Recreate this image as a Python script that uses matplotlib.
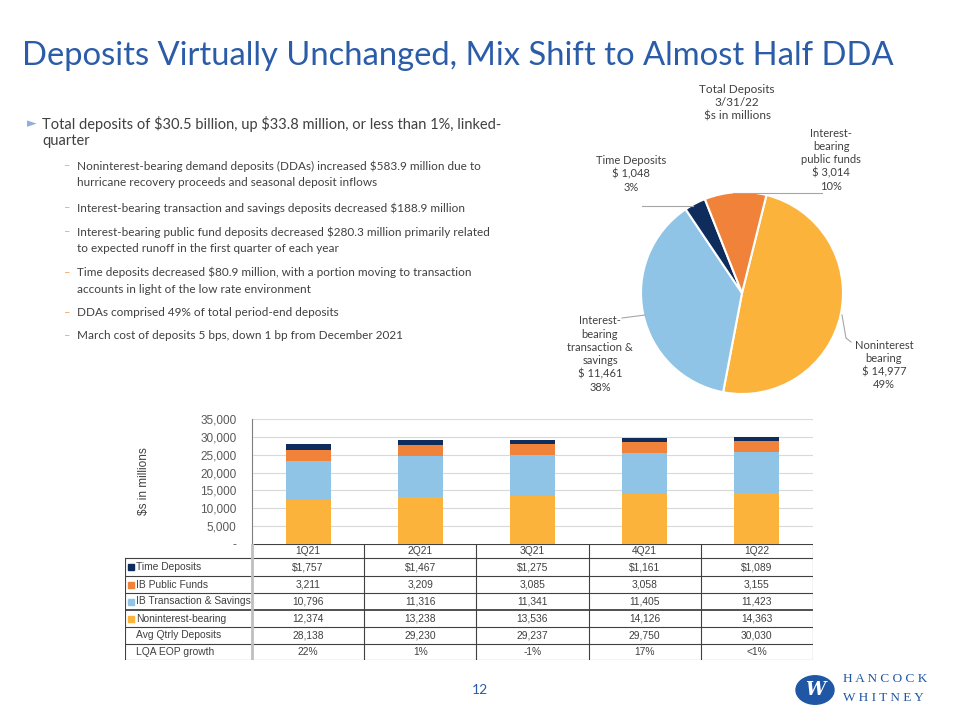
import matplotlib.pyplot as plt
from matplotlib.patches import Circle

plt.rcParams['font.family'] = ['Lato', 'DejaVu Sans']

# ---- data ----
quarters = ["1Q21", "2Q21", "3Q21", "4Q21", "1Q22"]
time_dep = [1757, 1467, 1275, 1161, 1089]
ib_public = [3211, 3209, 3085, 3058, 3155]
ib_trans = [10796, 11316, 11341, 11405, 11423]
nonint = [12374, 13238, 13536, 14126, 14363]
avg_qtrly = [28138, 29230, 29237, 29750, 30030]
lqa_growth = ["22%", "1%", "-1%", "17%", "<1%"]

pie_labels = ["Noninterest\nbearing\n$ 14,977\n49%",
              "Interest-\nbearing\ntransaction &\nsavings\n$ 11,461\n38%",
              "Time Deposits\n$ 1,048\n3%",
              "Interest-\nbearing\npublic funds\n$ 3,014\n10%"]
pie_values = [14977, 11461, 1048, 3014]

C_NON = "#FBB33C"
C_TRANS = "#8FC4E6"
C_TIME = "#0E2D5C"
C_PUB = "#F1823A"
BLUE = "#2B5CA8"
GRAY = "#404040"

W, H = 960, 720
fig = plt.figure(figsize=(9.6, 7.2), dpi=100)


def fx(x):
    return x / W


def fy(y):
    return 1 - y / H


def txt(x, y, s, **kw):
    return fig.text(fx(x), fy(y), s, parse_math=False, **kw)


# ---- title and bullets ----
txt(22, 65, "Deposits Virtually Unchanged, Mix Shift to Almost Half DDA",
    fontsize=23.6, color=BLUE, va="baseline")

txt(27, 124, "\u25BA", fontsize=9, color="#8FB0D8", va="center", family="DejaVu Sans")
txt(42, 116, "Total deposits of $30.5 billion, up $33.8 million, or less than 1%, linked-",
    fontsize=10.5, color=GRAY, va="top")
txt(42, 134, "quarter", fontsize=10.5, color=GRAY, va="top")

subs = [
    (160, "Noninterest-bearing demand deposits (DDAs) increased $583.9 million due to"),
    (177, None, "hurricane recovery proceeds and seasonal deposit inflows"),
    (202, "Interest-bearing transaction and savings deposits decreased $188.9 million"),
    (226, "Interest-bearing public fund deposits decreased $280.3 million primarily related"),
    (243, None, "to expected runoff in the first quarter of each year"),
    (267, "Time deposits decreased $80.9 million, with a portion moving to transaction"),
    (284, None, "accounts in light of the low rate environment"),
    (307, "DDAs comprised 49% of total period-end deposits"),
    (330, "March cost of deposits 5 bps, down 1 bp from December 2021"),
]
for s in subs:
    y = s[0]
    if len(s) == 2:
        txt(64, y, "\u2013", fontsize=8, color="#F2A65A", va="top")
        txt(77, y, s[1], fontsize=8.5, color=GRAY, va="top")
    else:
        txt(77, y, s[2], fontsize=8.5, color=GRAY, va="top")

# ---- pie ----
cx, cy, r = 742, 293, 101
pax = fig.add_axes([fx(cx - r), fy(cy + r), 2 * r / W, 2 * r / H])
wedges, _ = pax.pie(pie_values, colors=[C_NON, C_TRANS, C_TIME, C_PUB],
                    startangle=76, counterclock=False, radius=1,
                    wedgeprops=dict(edgecolor="white", linewidth=1.5))
pax.set_aspect("auto")
pax.set_xlim(-1, 1)
pax.set_ylim(-1, 1)

txt(737, 103, "Total Deposits\n3/31/22\n$s in millions", ha="center",
    va="center", fontsize=8.5, color=GRAY, linespacing=1.25)

lab_pos = [(884, 365), (600, 354), (631, 174), (831, 160)]
for lab, (lx, ly) in zip(pie_labels, lab_pos):
    txt(lx, ly, lab, ha="center", va="center", fontsize=8,
        color=GRAY, linespacing=1.25)

# leader lines (figure pixel space)
line_kw = dict(color="#A6A6A6", linewidth=0.8, transform=fig.transFigure)
for xs, ys in [([642, 693], [206, 206]), ([733, 822], [193, 193]),
               ([622, 645], [318, 315]), ([842, 846, 851], [315, 338, 342])]:
    fig.add_artist(plt.Line2D([fx(v) for v in xs], [fy(v) for v in ys], **line_kw))

# ---- stacked bars ----
bx0, bx1, by0, by1 = 252, 813, 419, 544
bax = fig.add_axes([fx(bx0), fy(by1), (bx1 - bx0) / W, (by1 - by0) / H])
xs = range(len(quarters))
bw = 0.4
bottom = [0] * len(quarters)
for vals, col in [(nonint, C_NON), (ib_trans, C_TRANS), (ib_public, C_PUB), (time_dep, C_TIME)]:
    bax.bar(xs, vals, bw, bottom=bottom, color=col, zorder=3)
    bottom = [b + v for b, v in zip(bottom, vals)]
bax.set_xlim(-0.5, 4.5)
bax.set_ylim(0, 35000)
bax.set_yticks(range(0, 35001, 5000))
bax.set_yticklabels(["-"] + [f"{v:,}" for v in range(5000, 35001, 5000)],
                    fontsize=8.5, color="#595959", family=["Liberation Sans", "DejaVu Sans"])
bax.set_xticks([])
bax.tick_params(axis="y", length=0, pad=11)
bax.grid(axis="y", color="#D9D9D9", linewidth=0.8, zorder=0)
for sp in ["top", "right", "bottom"]:
    bax.spines[sp].set_visible(False)
bax.spines["left"].set_color("#7F7F7F")
bax.spines["left"].set_linewidth(0.8)
bax.set_ylabel("$s in millions", fontsize=8.5, color="#404040", labelpad=36,
               family=["Liberation Sans", "DejaVu Sans"])

# ---- data table ----
tx0, tx1, ty0, ty1 = 125, 813, 544, 660
colw = (bx1 - bx0) / 5
tax = fig.add_axes([fx(tx0), fy(ty1), (tx1 - tx0) / W, (ty1 - ty0) / H])
left = -0.5 - (bx0 - tx0) / colw
tax.set_xlim(left, 4.5)
tax.set_ylim(ty1, ty0)
tax.axis("off")

rows_y = [544, 558, 576, 593, 610, 627, 644, 660]
tfont = dict(fontsize=7.4, color="#404040", family=["Liberation Sans", "DejaVu Sans"],
             parse_math=False)
lk = dict(color="#404040", linewidth=0.8)
tax.plot([-0.5, 4.5], [rows_y[0]] * 2, **lk)
for i, y in enumerate(rows_y[1:], start=1):
    tax.plot([left, 4.5], [y, y], color="#202020" if i == 4 else "#404040",
             linewidth=1.1 if i == 4 else 0.8)
tax.plot([left, left], [rows_y[1], rows_y[-1]], **lk)
tax.plot([-0.5, -0.5], [rows_y[0], rows_y[-1]], color="#BFBFBF", linewidth=2)
for k in range(1, 6):
    tax.plot([k - 0.5, k - 0.5], [rows_y[0], rows_y[-1]], **lk)

row_names = ["Time Deposits", "IB Public Funds", "IB Transaction & Savings",
             "Noninterest-bearing", "Avg Qtrly Deposits", "LQA EOP growth"]
row_cols = [C_TIME, C_PUB, C_TRANS, C_NON, None, None]
row_vals = [
    [f"${v:,}" for v in time_dep],
    [f"{v:,}" for v in ib_public],
    [f"{v:,}" for v in ib_trans],
    [f"{v:,}" for v in nonint],
    [f"{v:,}" for v in avg_qtrly],
    lqa_growth,
]
for i, q in enumerate(quarters):
    tax.text(i, (rows_y[0] + rows_y[1]) / 2, q, ha="center", va="center", **tfont)
mark_x = left + 6 / colw
text_x = left + 11 / colw
for r_i, (name, col, vals) in enumerate(zip(row_names, row_cols, row_vals)):
    yc = (rows_y[r_i + 1] + rows_y[r_i + 2]) / 2
    if col:
        tax.plot(mark_x, yc, marker="s", markersize=4, color=col, linestyle="none")
    tax.text(text_x, yc, name, ha="left", va="center", **tfont)
    for i, v in enumerate(vals):
        tax.text(i, yc, v, ha="center", va="center", **tfont)

# ---- footer ----
txt(480, 690, "12", ha="center", va="center", fontsize=10, color=BLUE)
fig.add_artist(Circle((fx(815), fy(690)), 19 / W, transform=fig.transFigure,
                      color="#1F57A4"))
txt(815, 690, "W", ha="center", va="center", fontsize=13,
    color="white", fontweight="bold", style="italic", family=["DejaVu Serif"])
txt(843, 679, "H A N C O C K", ha="left", va="center", fontsize=9.5,
    color="#1F57A4", family=["Liberation Serif"])
txt(843, 698, "W H I T N E Y", ha="left", va="center", fontsize=9.5,
    color="#1F57A4", family=["Liberation Serif"])

fig.savefig("out.png", dpi=100)
